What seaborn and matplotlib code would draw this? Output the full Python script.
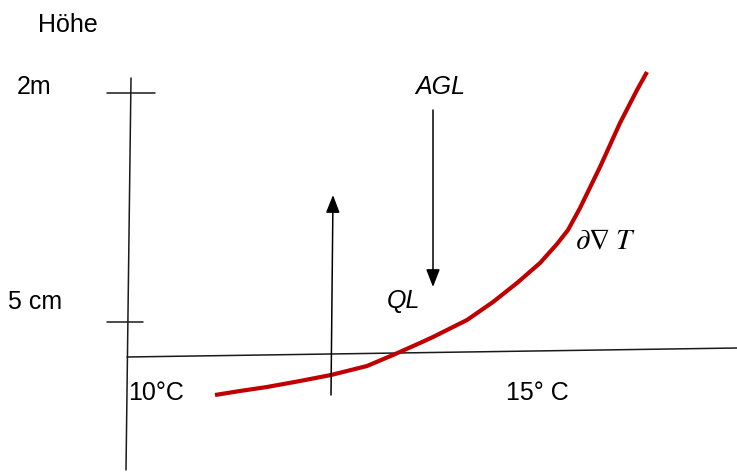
import matplotlib
matplotlib.use("Agg")
import matplotlib.pyplot as plt
import seaborn as sns
import pandas as pd

sns.set_theme(style="white")
plt.rcParams['font.family'] = ['Liberation Sans', 'DejaVu Sans']
plt.rcParams['text.color'] = 'black'
plt.rcParams['mathtext.fontset'] = 'stix'

# Diagram coordinates (canvas units, y grows downward)
curve_x = [215, 240, 267, 300, 331, 367, 393, 420, 433, 467, 493, 517, 540, 557, 568, 580, 600, 620, 637, 647]
curve_y = [395, 391, 387, 381, 375, 366, 355, 343, 337, 320, 302, 283, 263, 244, 230, 208, 167, 123, 90, 72]

axis_labels = ["Höhe", "2m", "5 cm", "10°C", "15° C"]
italic_labels = ["AGL", "QL"]

fig = plt.figure(figsize=(7.37, 4.74), dpi=100)
ax = fig.add_axes([0, 0, 1, 1])

lc = "#1a1a1a"
# y axis (slightly tilted) and x axis
ax.plot([131, 126], [78, 470], color=lc, lw=1.1)
ax.plot([127, 737], [357, 348], color=lc, lw=1.1)
# ticks
ax.plot([107, 155], [93, 93], color=lc, lw=1.1)
ax.plot([107, 143], [322, 322], color=lc, lw=1.1)

# up arrow
ax.annotate("", xy=(333, 195), xytext=(331, 395),
            arrowprops=dict(arrowstyle="-|>,head_length=0.9,head_width=0.35",
                            color="black", lw=1.1, shrinkA=0, shrinkB=0))
# down arrow
ax.annotate("", xy=(433, 287), xytext=(433, 110),
            arrowprops=dict(arrowstyle="-|>,head_length=0.9,head_width=0.35",
                            color="black", lw=1.1, shrinkA=0, shrinkB=0))

df = pd.DataFrame({"x": curve_x, "y": curve_y})
sns.lineplot(data=df, x="x", y="y", ax=ax, color="#C00000", lw=3, sort=False,
             solid_joinstyle="round", solid_capstyle="butt")
ax.set_xlim(0, 737)
ax.set_ylim(474, 0)
ax.axis("off")

fs = 18
ax.text(38, 25, axis_labels[0], fontsize=fs, va="center", ha="left")
ax.text(17, 87, axis_labels[1], fontsize=fs, va="center", ha="left")
ax.text(8, 302, axis_labels[2], fontsize=fs, va="center", ha="left")
ax.text(128, 393, axis_labels[3], fontsize=fs, va="center", ha="left")
ax.text(506, 393, axis_labels[4], fontsize=fs, va="center", ha="left")
ax.text(415, 87, italic_labels[0], fontsize=fs, va="center", ha="left", style="italic")
ax.text(387, 301, italic_labels[1], fontsize=fs, va="center", ha="left", style="italic")
ax.text(575, 241, r"$\partial\nabla\;T$", fontsize=21, va="center", ha="left")

fig.savefig("out.png", dpi=100)
